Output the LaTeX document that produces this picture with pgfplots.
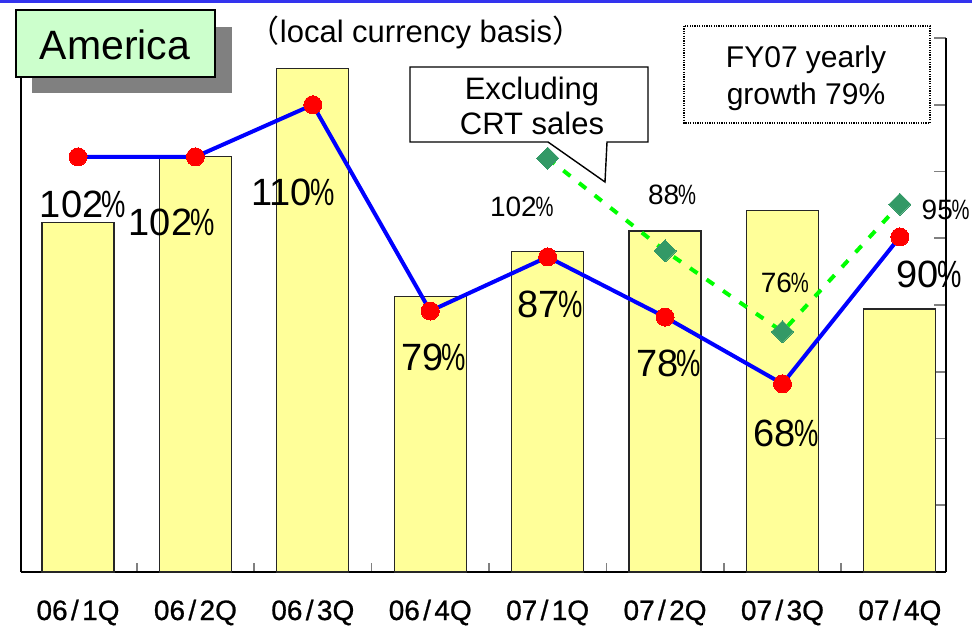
\documentclass[border=0pt]{standalone}
\usepackage{fontspec}
\setmainfont{Liberation Sans}
\newfontfamily\cjk{Noto Sans CJK JP}
\newfontfamily\tickfont[FakeBold=0.8]{Liberation Sans}
\usepackage{graphicx}
\usepackage{pgfplots}
\pgfplotsset{compat=1.18}

\definecolor{barfill}{HTML}{FFFF99}
\definecolor{linegreen}{HTML}{00FF00}
\definecolor{diamondgreen}{HTML}{339966}
\definecolor{boxgreen}{HTML}{CCFFCC}
\definecolor{shadowgray}{HTML}{808080}
\definecolor{topblue}{HTML}{3333EE}

% narrow percent sign like the original
\newcommand{\pc}[1]{#1\kern-0.04em\scalebox{0.72}[1]{\%}}
\newcommand{\q}[2]{#1\kern0.12em/\kern0.12em#2}

\begin{document}
\begin{tikzpicture}[
  bigl/.style={font=\fontsize{19}{19}\selectfont, inner sep=0pt, anchor=center},
  smalll/.style={font=\fontsize{14}{14}\selectfont, inner sep=0pt, anchor=center},
]
\useasboundingbox (0,0) rectangle (486pt,313pt);
\begin{axis}[
  at={(10.5pt,27pt)}, anchor=south west,
  scale only axis, width=462.5pt, height=267pt,
  xmin=-0.4855, xmax=7.393, ymin=0, ymax=8,
  axis x line*=bottom, axis y line*=right,
  axis line style={line width=0.8pt, black},
  xtick={0,...,7},
  xticklabels={\q{06}{1Q},\q{06}{2Q},\q{06}{3Q},\q{06}{4Q},\q{07}{1Q},\q{07}{2Q},\q{07}{3Q},\q{07}{4Q}},
  minor xtick={0.5,1.5,...,6.5},
  ytick={0,...,8}, yticklabels={},
  tick align=inside,
  major tick length=6pt, minor tick length=4.5pt,
  tick style={line width=0.8pt},
  major x tick style={draw=none},
  xticklabel style={font=\tickfont\fontsize{14}{14}\selectfont, anchor=base, yshift=-24pt},
  clip=false,
]
\draw[line width=0.8pt] (rel axis cs:0,0) -- (rel axis cs:0,1);

\addplot[ybar, bar width=36pt, bar shift=0pt, fill=barfill, draw=black!85, line width=0.6pt]
  coordinates {(0,5.24) (1,6.23) (2,7.54) (3,4.13) (4,4.80) (5,5.11) (6,5.41) (7,3.94)};

% excluding CRT
\addplot[linegreen, line width=2pt, dash pattern=on 4.5pt off 5.5pt,
  mark=square*, mark size=3.9pt, mark options={solid, rotate=45, fill=diamondgreen, draw=diamondgreen, line width=0pt}]
  coordinates {(4,6.20) (5,4.81) (6,3.60) (7,5.51)};

\addplot[blue, line width=2pt, mark=*, mark size=4.5pt, mark options={fill=red, draw=red, line width=0pt}]
  coordinates {(0,6.22) (1,6.22) (2,7.00) (3,3.91) (4,4.72) (5,3.82) (6,2.82) (7,5.02)};

\node[bigl] at (axis cs:0.043,5.50) {\pc{102}};
\node[bigl] at (axis cs:0.80,5.24) {\pc{102}};
\node[bigl] at (axis cs:1.83,5.68) {\pc{110}};
\node[bigl] at (axis cs:3.03,3.21) {\pc{79}};
\node[bigl] at (axis cs:4.02,4.01) {\pc{87}};
\node[bigl] at (axis cs:5.03,3.12) {\pc{78}};
\node[bigl] at (axis cs:6.03,2.08) {\pc{68}};
\node[bigl] at (axis cs:7.25,4.46) {\pc{90}};

\node[smalll] at (axis cs:3.78,5.47) {\pc{102}};
\node[smalll] at (axis cs:5.06,5.65) {\pc{88}};
\node[smalll] at (axis cs:6.02,4.33) {\pc{76}};
\node[smalll] at (axis cs:7.39,5.42) {\pc{95}};
\end{axis}

\begin{scope}[x=0.5pt, y=-0.5pt, yshift=313pt]
  \fill[topblue] (0,0) rectangle (972,2.7);
  % title box
  \fill[shadowgray] (32,27) rectangle (232,93);
  \draw[line width=0.8pt, fill=boxgreen] (16,10) rectangle (215,77);
  \node[font=\fontsize{20.5}{20.5}\selectfont, inner sep=0pt] at (115,45) {America};
  \node[anchor=base, font=\fontsize{15.5}{15.5}\selectfont, inner sep=0pt] at (416,43)
    {{\cjk （}local currency basis{\cjk ）}};
  % callout
  \draw[line width=0.7pt, fill=white] (410,67) -- (648,67) -- (648,142) -- (607,142)
    -- (605,182) -- (548,142) -- (410,142) -- cycle;
  \node[anchor=base, font=\fontsize{15.5}{15.5}\selectfont, inner sep=0pt] at (532,100) {Excluding};
  \node[anchor=base, font=\fontsize{15.5}{15.5}\selectfont, inner sep=0pt] at (532,135) {CRT sales};
  % yearly growth box
  \draw[line width=0.6pt, dash pattern=on 0.6pt off 0.6pt] (684,26) rectangle (930,123);
  \node[anchor=base, font=\fontsize{15}{15}\selectfont, inner sep=0pt] at (806,68) {FY07 yearly};
  \node[anchor=base, font=\fontsize{15}{15}\selectfont, inner sep=0pt] at (806,105) {growth 79\%};
\end{scope}
\end{tikzpicture}
\end{document}
